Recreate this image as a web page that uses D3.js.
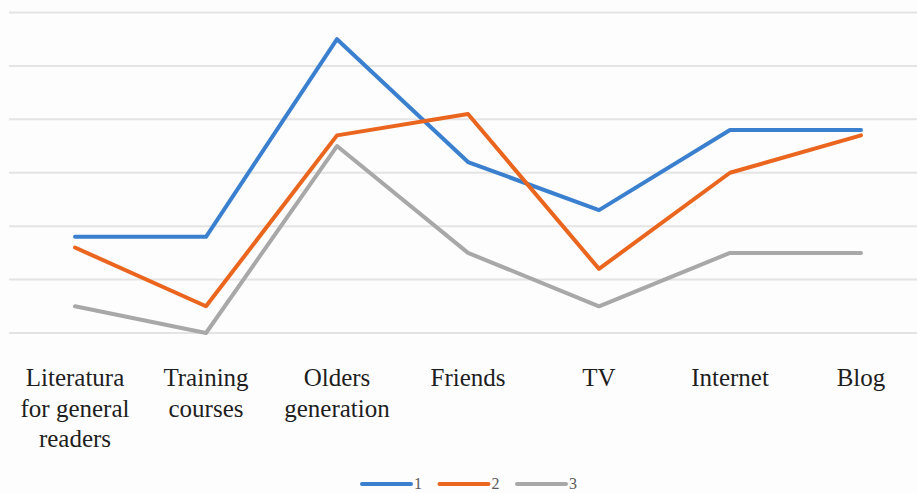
<!DOCTYPE html>
<html>
<head>
<meta charset="utf-8">
<script src="https://cdn.jsdelivr.net/npm/d3@7"></script>
<style>
    body { margin: 0; background: #fdfdfd; }
    svg { display: block; }
</style>
</head>
<body>
<div id="chart"></div>
<script>
// categories, split into wrapped label lines
const categories = ["Literatura for general readers", "Training courses", "Olders generation", "Friends", "TV", "Internet", "Blog"];
const labelLines = [
    ["Literatura", "for general", "readers"],
    ["Training", "courses"],
    ["Olders", "generation"],
    ["Friends"],
    ["TV"],
    ["Internet"],
    ["Blog"]
];
const seriesNames = ["1", "2", "3"];
const series1 = [1.8, 1.8, 5.5, 3.2, 2.3, 3.8, 3.8];
const series2 = [1.6, 0.5, 3.7, 4.1, 1.2, 3.0, 3.7];
const series3 = [0.5, 0.0, 3.5, 1.5, 0.5, 1.5, 1.5];
const yTicks = [0, 1, 2, 3, 4, 5, 6];

const w = 917,
    h = 493,
    colors = ["#3b80cf", "#ea661f", "#a8a8a8"];

const svg = d3.select("#chart")
    .append("svg")
    .attr("width", w)
    .attr("height", h);

svg.append("rect")
    .attr("width", w)
    .attr("height", h)
    .attr("fill", "#fdfdfd");

const xScale = d3.scaleBand()
    .domain(categories)
    .range([9.5, 926.5]);

const yScale = d3.scaleLinear()
    .domain([0, 6])
    .range([333, 12.5]);

// gridlines
svg.append("g")
    .selectAll("line")
    .data(yTicks)
    .enter()
    .append("line")
    .attr("x1", 9)
    .attr("x2", w)
    .attr("y1", d => yScale(d))
    .attr("y2", d => yScale(d))
    .attr("stroke", "#e4e4e4")
    .attr("stroke-width", 2);

// category labels
const labels = svg.append("g")
    .attr("font-family", "'Liberation Serif', 'Times New Roman', serif")
    .attr("font-size", 25)
    .attr("fill", "#1e1e1e")
    .attr("text-anchor", "middle");

categories.forEach((c, i) => {
    const cx = xScale(c) + xScale.bandwidth() / 2;
    const t = labels.append("text")
        .attr("x", cx)
        .attr("y", 386);
    labelLines[i].forEach((line, j) => {
        t.append("tspan")
            .attr("x", cx)
            .attr("dy", j === 0 ? 0 : 30.5)
            .text(line);
    });
});

// lines
const lineGen = d3.line()
    .x((d, i) => xScale(categories[i]) + xScale.bandwidth() / 2)
    .y(d => yScale(d));

[series1, series2, series3].forEach((s, k) => {
    svg.append("path")
        .datum(s)
        .attr("fill", "none")
        .attr("stroke", colors[k])
        .attr("stroke-width", 4)
        .attr("stroke-linejoin", "round")
        .attr("stroke-linecap", "round")
        .attr("d", lineGen);
});

// legend
const legend = svg.append("g")
    .attr("transform", "translate(362, 484)");

seriesNames.forEach((name, k) => {
    const g = legend.append("g")
        .attr("transform", "translate(" + (k * 77.5) + ", 0)");
    g.append("line")
        .attr("x1", 0)
        .attr("x2", 49)
        .attr("y1", 0)
        .attr("y2", 0)
        .attr("stroke", colors[k])
        .attr("stroke-width", 4)
        .attr("stroke-linecap", "round");
    g.append("text")
        .attr("x", 52)
        .attr("y", 5)
        .attr("font-family", "'Liberation Serif', serif")
        .attr("font-size", 16)
        .attr("fill", "#595959")
        .text(name);
});
</script>
</body>
</html>
